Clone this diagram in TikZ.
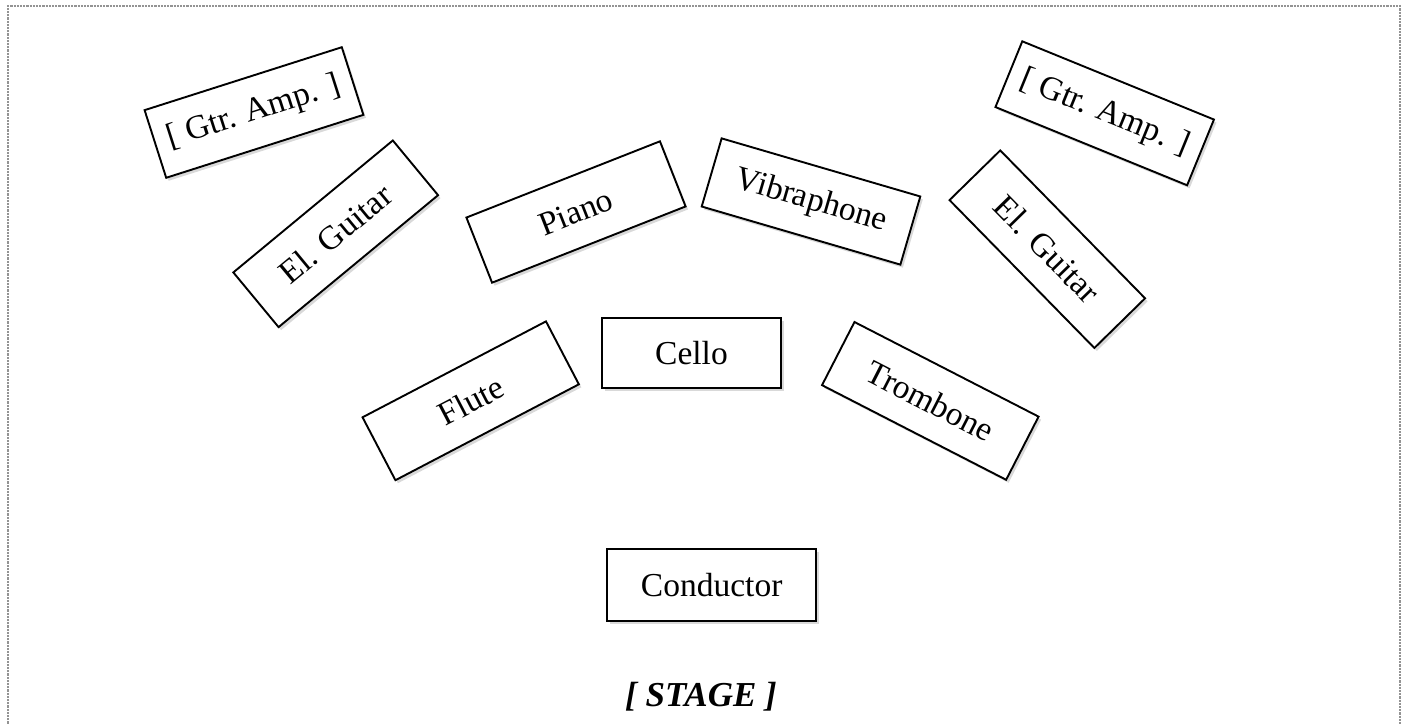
\documentclass[tikz,border=0pt]{standalone}
\usepackage{fontspec}
\setmainfont{Liberation Serif}
\usetikzlibrary{shadows}
\begin{document}
\begin{tikzpicture}[x=1pt,y=-1pt,
  inst/.style={draw=black, line width=1.9pt, fill=white, inner sep=0pt,
    minimum width=207pt, minimum height=71pt,
    font=\fontsize{33.5}{36}\selectfont,
    drop shadow={opacity=0.3, shadow xshift=2.5pt, shadow yshift=-3pt}},
  frame/.style={draw=gray!85, line width=2.2pt, densely dotted}]
\useasboundingbox (0,0) rectangle (1406,725);
\coordinate (fbl) at (8,730);
\coordinate (ftl) at (8,6);
\coordinate (ftr) at (1400,6);
\coordinate (fbr) at (1400,730);
\draw[frame] (fbl) -- (ftl) -- (ftr) -- (fbr);

\node[inst, rotate=17.7] (ampL) at (254,112.5) {[ Gtr. Amp. ]};
\node[inst, rotate=39.6] (gtrL) at (335.7,233.8) {El. Guitar};
\node[inst, rotate=21.5, minimum width=208pt, minimum height=70pt] (piano) at (576,212) {Piano};
\node[inst, rotate=-16.3] (vib) at (811,201.5) {Vibraphone};
\node[inst, rotate=-45.6] (gtrR) at (1047.3,249.2) {El. Guitar};
\node[inst, rotate=-22.2] (ampR) at (1104.7,113.3) {[ Gtr. Amp. ]};
\node[inst, rotate=27.6] (flute) at (470.7,400.8) {Flute};
\node[inst, minimum width=179pt, minimum height=70pt] (cello) at (691.5,353) {Cello};
\node[inst, rotate=-27.2] (tromb) at (930.3,400.9) {Trombone};
\node[inst, minimum width=209pt, minimum height=72pt] (cond) at (711.7,585.2) {Conductor};
\node[font=\fontsize{35}{38}\selectfont\bfseries\itshape] (stage) at (701,697) {[ STAGE ]};
\end{tikzpicture}
\end{document}
